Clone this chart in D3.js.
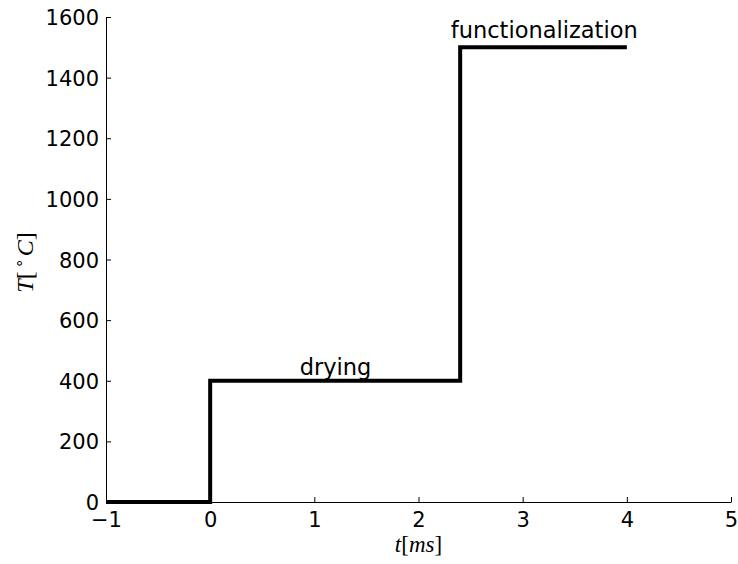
<!DOCTYPE html>
<html>
<head>
<meta charset="utf-8">
<script src="https://cdn.jsdelivr.net/npm/d3@7"></script>
<style>
  html, body { margin: 0; padding: 0; background: #fff; }
  svg { display: block; }
  .tick text { font-family: "DejaVu Sans", sans-serif; font-size: 21px; fill: #000; }
  .domain { stroke: #000; stroke-width: 1; }
  .tick line { stroke: #000; }
</style>
</head>
<body>
<svg id="chart" width="738" height="564"></svg>
<script>
// ─── Data ────────────────────────────────────────────
const stepTimes = [-1, 0, 0, 2.4, 2.4, 4];        // t [ms]
const stepTemps = [0, 0, 400, 400, 1500, 1500];   // T [°C]
const xTicks = [-1, 0, 1, 2, 3, 4, 5];
const yTicks = [0, 200, 400, 600, 800, 1000, 1200, 1400, 1600];
const phaseLabels = ['drying', 'functionalization'];
const phaseX = [0.86, 2.31];
const phaseY = [420, 1530];

// ─── Layout ──────────────────────────────────────────
const svg = d3.select('#chart');
const margin = { top: 17, right: 7, bottom: 62, left: 106 };
const w = 738, h = 564;
const iw = w - margin.left - margin.right;
const ih = h - margin.top - margin.bottom;
const g = svg.append('g').attr('transform', `translate(${margin.left},${margin.top})`);

const x = d3.scaleLinear().domain([-1, 5]).range([0, iw]);
const y = d3.scaleLinear().domain([0, 1600]).range([ih, 0]);

// Axes (matplotlib classic: ticks pointing inward, only left/bottom spines)
const xAxis = g.append('g').attr('transform', `translate(0,${ih})`)
  .call(d3.axisBottom(x).tickValues(xTicks).tickFormat(d => d < 0 ? '\u2212' + Math.abs(d) : String(d))
    .tickSizeInner(-5).tickSizeOuter(0).tickPadding(10));
xAxis.selectAll('.tick text').attr('dy', '0.71em');

const yAxis = g.append('g')
  .call(d3.axisLeft(y).tickValues(yTicks).tickFormat(d3.format('d'))
    .tickSizeInner(-5).tickSizeOuter(0).tickPadding(7));
yAxis.selectAll('.tick text').attr('dy', '0.36em');

// Step line
const line = d3.line().x((d, i) => x(stepTimes[i])).y(d => y(d));
g.append('path').datum(stepTemps)
  .attr('fill', 'none')
  .attr('stroke', '#000')
  .attr('stroke-width', 4)
  .attr('stroke-linejoin', 'miter')
  .attr('d', line);

// Phase annotations
g.selectAll('text.phase').data(phaseLabels).join('text')
  .attr('class', 'phase')
  .attr('x', (d, i) => x(phaseX[i]))
  .attr('y', (d, i) => y(phaseY[i]))
  .attr('font-family', '"DejaVu Sans", sans-serif')
  .attr('font-size', '22.5px')
  .attr('fill', '#000')
  .text(d => d);

// Axis labels (mathtext-like)
const xl = svg.append('text')
  .attr('x', margin.left + x(2))
  .attr('y', 552)
  .attr('text-anchor', 'middle')
  .attr('font-family', '"Liberation Serif", serif')
  .attr('font-size', '23px');
xl.append('tspan').attr('font-style', 'italic').text('t');
xl.append('tspan').text('[');
xl.append('tspan').attr('font-style', 'italic').text('ms');
xl.append('tspan').text(']');

const yl = svg.append('text')
  .attr('transform', `translate(33,${margin.top + y(800) + 3}) rotate(-90)`)
  .attr('text-anchor', 'middle')
  .attr('font-family', '"Liberation Serif", serif')
  .attr('font-size', '24px');
yl.append('tspan').attr('font-style', 'italic').text('T');
yl.append('tspan').text('[');
yl.append('tspan').attr('font-size', '15px').attr('dx', '3').attr('dy', '-9').text('\u2218');
yl.append('tspan').attr('dx', '3').attr('dy', '9').attr('font-style', 'italic').text('C');
yl.append('tspan').text(']');
</script>
</body>
</html>
